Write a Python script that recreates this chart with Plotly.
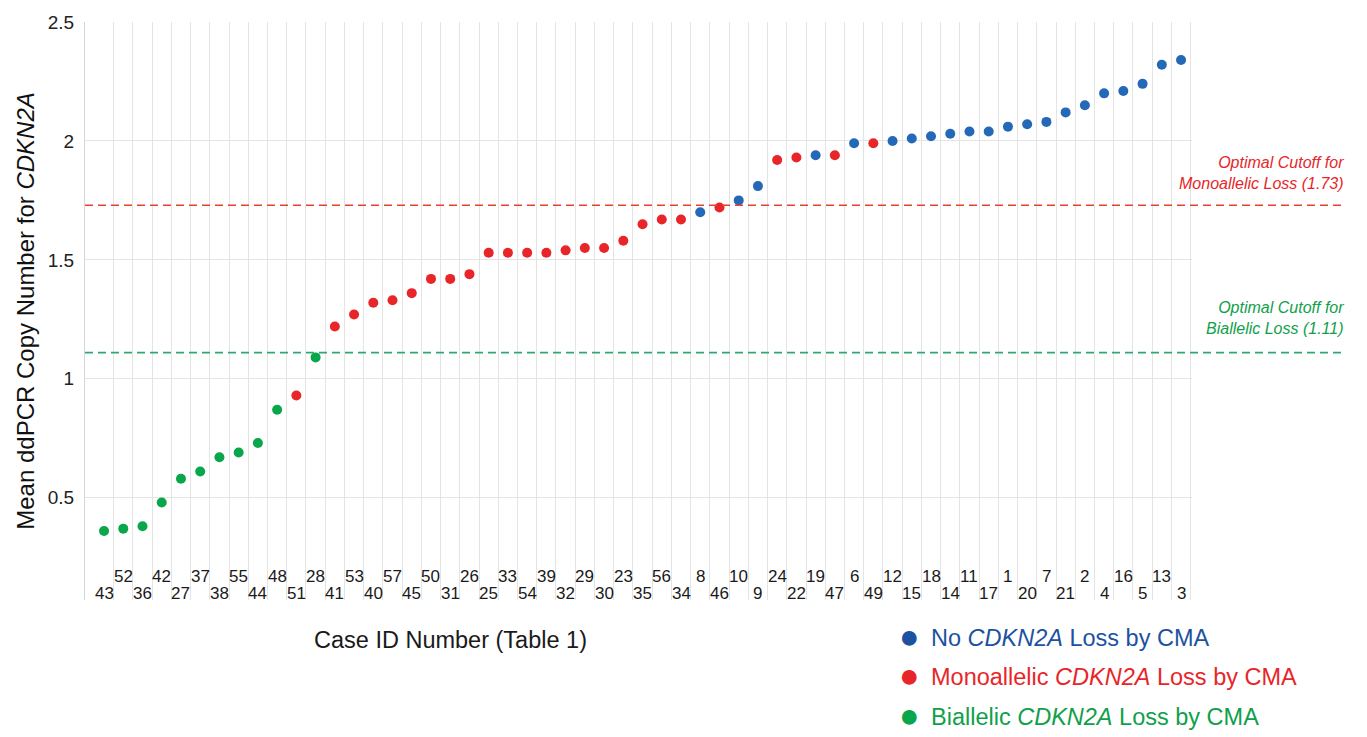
import plotly.graph_objects as go

# Case IDs in plotting order (sorted by mean ddPCR copy number)
case_ids = [43, 52, 36, 42, 27, 37, 38, 55, 44, 48, 51, 28, 41, 53, 40, 57, 45, 50, 31,
            26, 25, 33, 54, 39, 32, 29, 30, 23, 35, 56, 34, 8, 46, 10, 9, 24, 22, 19, 47,
            6, 49, 12, 15, 18, 14, 11, 17, 1, 20, 7, 21, 2, 4, 16, 5, 13, 3]

# Mean ddPCR copy number for CDKN2A, one value per case
copy_number = [0.36, 0.37, 0.38, 0.48, 0.58, 0.61, 0.67, 0.69, 0.73, 0.87,
               0.93, 1.09, 1.22, 1.27, 1.32, 1.33, 1.36, 1.42, 1.42, 1.44,
               1.53, 1.53, 1.53, 1.53, 1.54, 1.55, 1.55, 1.58, 1.65, 1.67,
               1.67, 1.70, 1.72, 1.75, 1.81, 1.92, 1.93, 1.94, 1.94, 1.99,
               1.99, 2.00, 2.01, 2.02, 2.03, 2.04, 2.04, 2.06, 2.07, 2.08,
               2.12, 2.15, 2.20, 2.21, 2.24, 2.32, 2.34]

# CMA status per case: N = no loss, M = monoallelic loss, B = biallelic loss
cma_status = (["B"] * 10 + ["M", "B"] + ["M"] * 19 +
              ["N", "M", "N", "N", "M", "M", "N", "M", "N", "M"] + ["N"] * 16)

# Optimal cutoffs
cutoff_mono = 1.73
cutoff_bi = 1.11

y_ticks = [0.5, 1, 1.5, 2, 2.5]
y_tick_text = ["0.5", "1", "1.5", "2", "2.5"]

status_colors = {"N": "#2468b8", "M": "#e8262a", "B": "#0aa64b"}
legend_items = [
    ("No <i>CDKN2A</i> Loss by CMA", "#1d52a0", "#1d52a0"),
    ("Monoallelic <i>CDKN2A</i> Loss by CMA", "#e8262a", "#e8262a"),
    ("Biallelic <i>CDKN2A</i> Loss by CMA", "#10a04a", "#0aa64b"),
]

positions = list(range(len(case_ids)))

fig = go.Figure()
fig.add_trace(go.Scatter(
    x=positions, y=copy_number, mode="markers",
    marker=dict(size=10, color=[status_colors[s] for s in cma_status]),
    showlegend=False, hoverinfo="skip", cliponaxis=False,
))

# Cutoff lines reach past the plotting area into the right margin
fig.add_shape(type="line", xref="paper", yref="y", x0=0, x1=1.138,
              y0=cutoff_mono, y1=cutoff_mono,
              line=dict(color="#e8402f", width=1.5, dash="8px,5px"))
fig.add_shape(type="line", xref="paper", yref="y", x0=0, x1=1.138,
              y0=cutoff_bi, y1=cutoff_bi,
              line=dict(color="#2ea870", width=1.8, dash="8px,5px"))

fig.add_annotation(xref="paper", yref="y", x=1.1395, y=cutoff_mono, yshift=11,
                   xanchor="right", yanchor="bottom", align="right", showarrow=False,
                   text=f"<i>Optimal Cutoff for<br>Monoallelic Loss ({cutoff_mono:.2f})</i>",
                   font=dict(size=16, color="#e8262a"))
fig.add_annotation(xref="paper", yref="y", x=1.1395, y=cutoff_bi, yshift=14,
                   xanchor="right", yanchor="bottom", align="right", showarrow=False,
                   text=f"<i>Optimal Cutoff for<br>Biallelic Loss ({cutoff_bi:.2f})</i>",
                   font=dict(size=16, color="#10a04a"))

# Staggered case ID labels along the bottom of the plot
for i, cid in enumerate(case_ids):
    fig.add_annotation(xref="x", yref="paper", x=i, y=0.012 if i % 2 == 0 else 0.04,
                       text=str(cid), showarrow=False, xanchor="center", yanchor="middle",
                       font=dict(size=17, color="#1a1a1a"))

# Legend built from coloured text
for k, (label, tcolor, mcolor) in enumerate(legend_items):
    ypos = -0.065 - k * 0.0685
    fig.add_annotation(xref="paper", yref="paper", x=0.745, y=ypos, yshift=2,
                       text="●", showarrow=False, xanchor="center", yanchor="middle",
                       font=dict(size=34, color=mcolor))
    fig.add_annotation(xref="paper", yref="paper", x=0.7625, y=ypos,
                       text=label, showarrow=False, xanchor="left", yanchor="middle",
                       font=dict(size=23.5, color=tcolor))

fig.add_annotation(xref="paper", yref="paper", x=0.33, y=-0.07,
                   text="Case ID Number (Table 1)", showarrow=False,
                   xanchor="center", yanchor="middle",
                   font=dict(size=23.5, color="#1a1a1a"))

fig.update_xaxes(
    range=[-0.99, 56.57],
    tickvals=[i + 0.5 for i in positions],
    showticklabels=False, ticks="",
    showgrid=True, gridcolor="#e4e4e4", gridwidth=1,
    showline=False, zeroline=False,
)
fig.update_yaxes(
    range=[0.07, 2.5],
    tickvals=y_ticks, ticktext=y_tick_text,
    showgrid=True, gridcolor="#e4e4e4", gridwidth=1,
    zeroline=False, showline=True, linecolor="#d6d6d6", linewidth=1,
    ticks="outside", ticklen=6, tickcolor="rgba(0,0,0,0)",
    tickfont=dict(size=19, color="#222222"),
    title=dict(text="Mean ddPCR Copy Number for <i>CDKN2A</i>",
               font=dict(size=24, color="#111111"), standoff=6),
)

fig.update_layout(
    width=1367, height=737,
    margin=dict(l=85, r=175, t=17, b=137),
    plot_bgcolor="white", paper_bgcolor="white",
    font=dict(family="Liberation Sans, Arial, sans-serif"),
    showlegend=False,
)

fig.write_html("out.html")
